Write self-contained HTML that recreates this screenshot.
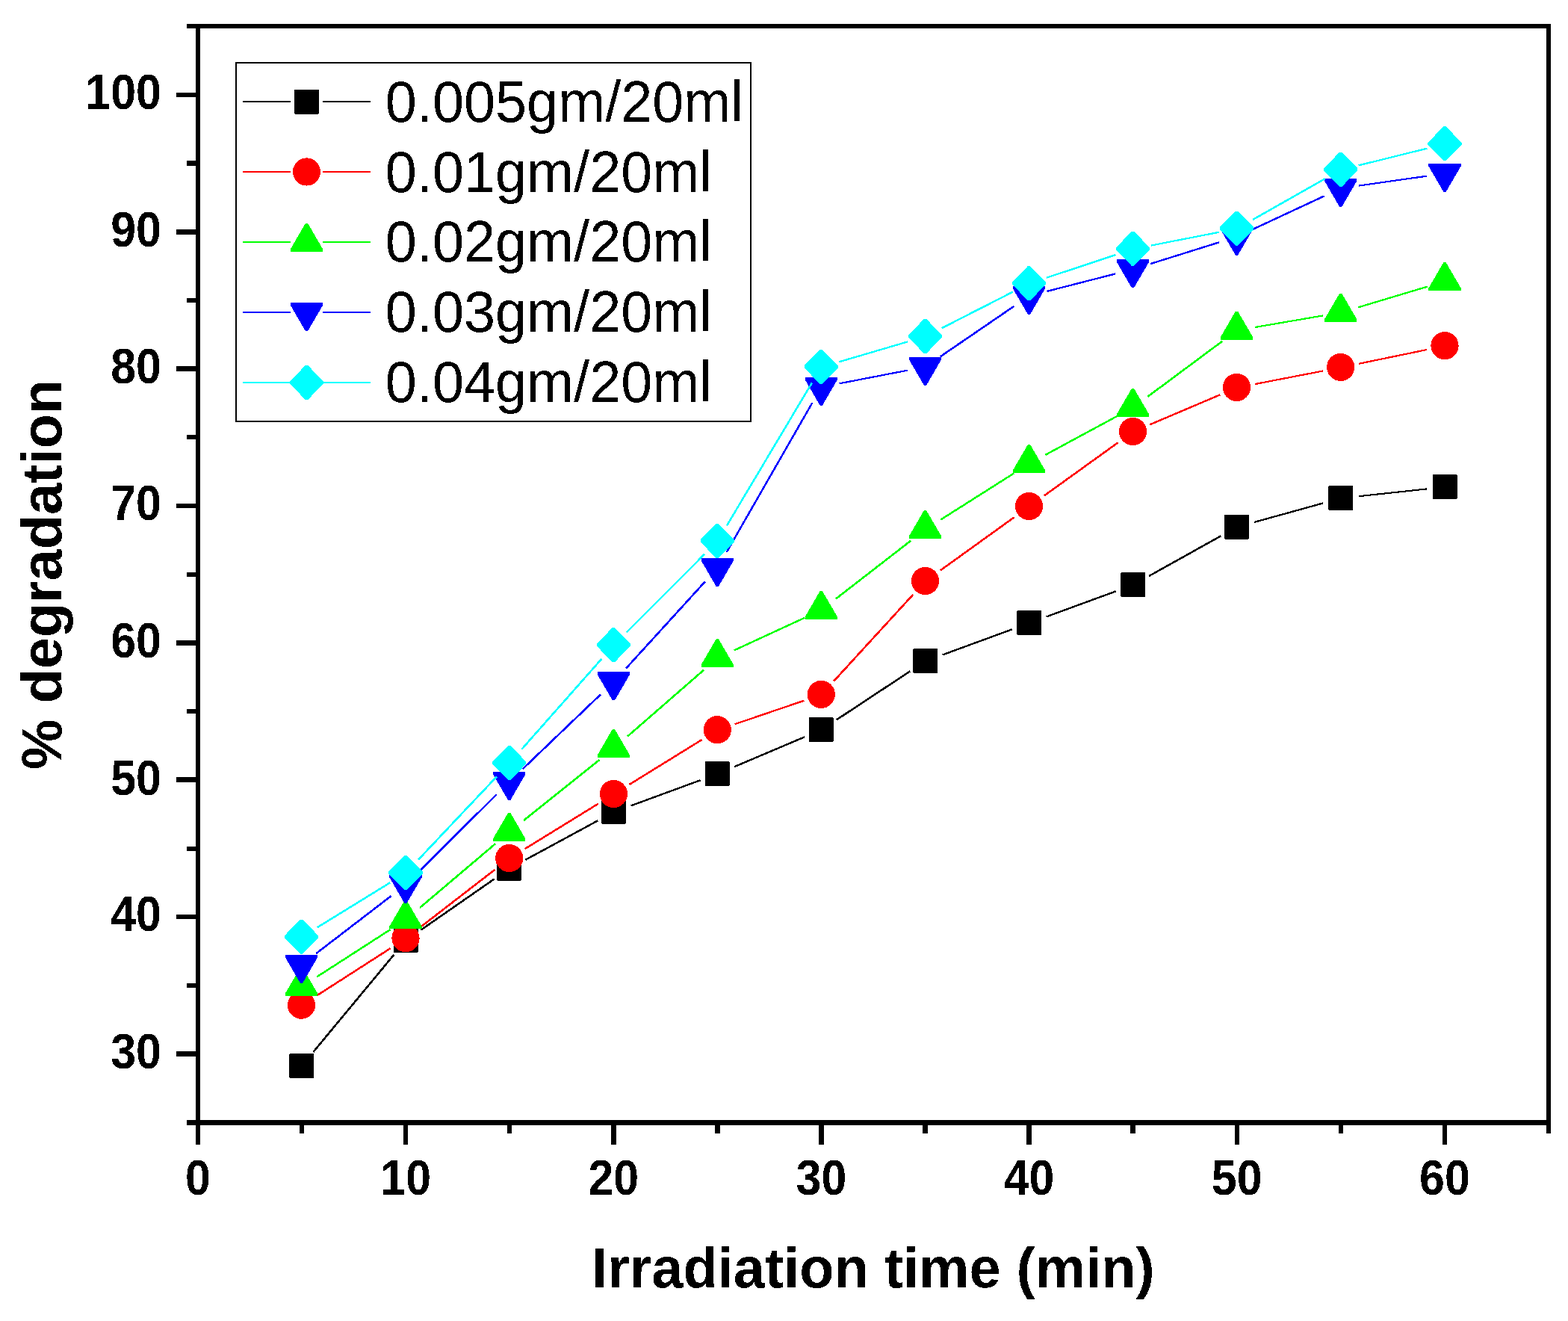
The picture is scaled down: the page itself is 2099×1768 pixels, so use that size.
<!DOCTYPE html>
<html lang="en"><head><meta charset="utf-8"><title>% degradation vs Irradiation time</title>
<style>
html,body{margin:0;padding:0;background:#fff;}
body{width:2099px;height:1768px;}
svg{display:block;}
text{font-family:"Liberation Sans",sans-serif;fill:#000;}
.b{font-weight:bold;}
.tk{font-size:62.5px;font-weight:bold;}
.tt{font-size:76px;font-weight:bold;}
.lg{font-size:76px;}
</style></head><body>
<svg width="2099" height="1768" viewBox="0 0 2099 1768">
<defs><filter id="bin" x="0" y="0" width="2099" height="1768" filterUnits="userSpaceOnUse" color-interpolation-filters="sRGB"><feComponentTransfer><feFuncA type="discrete" tableValues="0 1"/></feComponentTransfer></filter></defs>
<rect x="0" y="0" width="2099" height="1768" fill="#ffffff"/>
<g shape-rendering="crispEdges">
<g>
<line x1="419.34" y1="1408.04" x2="527.56" y2="1277.56" stroke="#000000" stroke-width="2.59"/>
<line x1="563.32" y1="1244.73" x2="661.78" y2="1176.37" stroke="#000000" stroke-width="2.56"/>
<line x1="703.45" y1="1150.74" x2="800.05" y2="1098.46" stroke="#000000" stroke-width="2.5"/>
<line x1="844.6" y1="1078.36" x2="937.5" y2="1044.24" stroke="#000000" stroke-width="2.39"/>
<line x1="983.05" y1="1026.23" x2="1076.95" y2="986.37" stroke="#000000" stroke-width="2.43"/>
<line x1="1119.95" y1="963.3" x2="1218.25" y2="898.4" stroke="#000000" stroke-width="2.55"/>
<line x1="1261.7" y1="876.46" x2="1354.7" y2="842.34" stroke="#000000" stroke-width="2.39"/>
<line x1="1400.7" y1="825.46" x2="1493.7" y2="791.34" stroke="#000000" stroke-width="2.39"/>
<line x1="1538.1" y1="770.97" x2="1634.3" y2="717.33" stroke="#000000" stroke-width="2.51"/>
<line x1="1679.31" y1="698.85" x2="1771.29" y2="673.35" stroke="#000000" stroke-width="2.31"/>
<line x1="1819.26" y1="664.18" x2="1909.84" y2="654.42" stroke="#000000" stroke-width="2.13"/>
<polygon points="388,1410 419,1410 420,1411 420,1442 419,1443 388,1443 387,1442 387,1411" fill="#000000"/>
<polygon points="527.5,1241.8 558.5,1241.8 559.5,1242.8 559.5,1273.8 558.5,1274.8 527.5,1274.8 526.5,1273.8 526.5,1242.8" fill="#000000"/>
<polygon points="666.2,1145.5 697.2,1145.5 698.2,1146.5 698.2,1177.5 697.2,1178.5 666.2,1178.5 665.2,1177.5 665.2,1146.5" fill="#000000"/>
<polygon points="805.9,1069.9 836.9,1069.9 837.9,1070.9 837.9,1101.9 836.9,1102.9 805.9,1102.9 804.9,1101.9 804.9,1070.9" fill="#000000"/>
<polygon points="944.8,1018.9 975.8,1018.9 976.8,1019.9 976.8,1050.9 975.8,1051.9 944.8,1051.9 943.8,1050.9 943.8,1019.9" fill="#000000"/>
<polygon points="1083.8,959.9 1114.8,959.9 1115.8,960.9 1115.8,991.9 1114.8,992.9 1083.8,992.9 1082.8,991.9 1082.8,960.9" fill="#000000"/>
<polygon points="1223,868 1254,868 1255,869 1255,900 1254,901 1223,901 1222,900 1222,869" fill="#000000"/>
<polygon points="1362,817 1393,817 1394,818 1394,849 1393,850 1362,850 1361,849 1361,818" fill="#000000"/>
<polygon points="1501,766 1532,766 1533,767 1533,798 1532,799 1501,799 1500,798 1500,767" fill="#000000"/>
<polygon points="1640,688.5 1671,688.5 1672,689.5 1672,720.5 1671,721.5 1640,721.5 1639,720.5 1639,689.5" fill="#000000"/>
<polygon points="1779.2,649.9 1810.2,649.9 1811.2,650.9 1811.2,681.9 1810.2,682.9 1779.2,682.9 1778.2,681.9 1778.2,650.9" fill="#000000"/>
<polygon points="1918.5,634.9 1949.5,634.9 1950.5,635.9 1950.5,666.9 1949.5,667.9 1918.5,667.9 1917.5,666.9 1917.5,635.9" fill="#000000"/>
</g>
<g>
<line x1="424.31" y1="1332.36" x2="522.59" y2="1269.24" stroke="#ff0000" stroke-width="2.55"/>
<line x1="562.59" y1="1241.03" x2="662.51" y2="1163.87" stroke="#ff0000" stroke-width="2.58"/>
<line x1="702.76" y1="1136.06" x2="800.74" y2="1075.74" stroke="#ff0000" stroke-width="2.54"/>
<line x1="842.44" y1="1050.02" x2="939.66" y2="989.98" stroke="#ff0000" stroke-width="2.54"/>
<line x1="983.69" y1="969.21" x2="1076.31" y2="937.69" stroke="#ff0000" stroke-width="2.37"/>
<line x1="1116.05" y1="911.74" x2="1222.15" y2="795.96" stroke="#ff0000" stroke-width="2.6"/>
<line x1="1258.59" y1="763.59" x2="1357.81" y2="692.21" stroke="#ff0000" stroke-width="2.57"/>
<line x1="1397.59" y1="663.59" x2="1496.81" y2="592.21" stroke="#ff0000" stroke-width="2.57"/>
<line x1="1539.25" y1="568.31" x2="1633.15" y2="528.39" stroke="#ff0000" stroke-width="2.43"/>
<line x1="1679.75" y1="514.13" x2="1770.85" y2="496.47" stroke="#ff0000" stroke-width="2.22"/>
<line x1="1818.89" y1="486.84" x2="1910.21" y2="467.96" stroke="#ff0000" stroke-width="2.24"/>
<circle cx="403.5" cy="1345.2" r="18.6" fill="#ff0000"/>
<circle cx="543" cy="1255.6" r="18.6" fill="#ff0000"/>
<circle cx="681.7" cy="1148.5" r="18.6" fill="#ff0000"/>
<circle cx="821.4" cy="1062.5" r="18.6" fill="#ff0000"/>
<circle cx="960.3" cy="976.7" r="18.6" fill="#ff0000"/>
<circle cx="1099.3" cy="929.4" r="18.6" fill="#ff0000"/>
<circle cx="1238.5" cy="777.5" r="18.6" fill="#ff0000"/>
<circle cx="1377.5" cy="677.5" r="18.6" fill="#ff0000"/>
<circle cx="1516.5" cy="577.5" r="18.6" fill="#ff0000"/>
<circle cx="1655.5" cy="518.4" r="18.6" fill="#ff0000"/>
<circle cx="1794.7" cy="491.4" r="18.6" fill="#ff0000"/>
<circle cx="1934" cy="462.6" r="18.6" fill="#ff0000"/>
</g>
<g>
<line x1="424.3" y1="1307.34" x2="522.6" y2="1244.06" stroke="#00ff00" stroke-width="2.55"/>
<line x1="561.9" y1="1214.97" x2="663.2" y2="1129.23" stroke="#00ff00" stroke-width="2.59"/>
<line x1="701.03" y1="1098.09" x2="802.47" y2="1016.91" stroke="#00ff00" stroke-width="2.59"/>
<line x1="840.08" y1="985.51" x2="942.02" y2="896.79" stroke="#00ff00" stroke-width="2.59"/>
<line x1="982.74" y1="870.43" x2="1077.26" y2="826.77" stroke="#00ff00" stroke-width="2.46"/>
<line x1="1118.86" y1="801.49" x2="1219.34" y2="723.61" stroke="#00ff00" stroke-width="2.58"/>
<line x1="1259.39" y1="695.48" x2="1357.01" y2="633.62" stroke="#00ff00" stroke-width="2.54"/>
<line x1="1399.26" y1="608.87" x2="1495.14" y2="557.13" stroke="#00ff00" stroke-width="2.5"/>
<line x1="1536.36" y1="530.89" x2="1636.04" y2="456.81" stroke="#00ff00" stroke-width="2.57"/>
<line x1="1679.85" y1="438.05" x2="1770.75" y2="422.45" stroke="#00ff00" stroke-width="2.2"/>
<line x1="1818.37" y1="411.27" x2="1910.73" y2="383.63" stroke="#00ff00" stroke-width="2.33"/>
<polygon points="401.9,1295.1 405.1,1295.1 425.1,1329.5 425.1,1333.1 381.9,1333.1 381.9,1329.5" fill="#00ff00"/>
<polygon points="541.4,1205.3 544.6,1205.3 564.6,1239.7 564.6,1243.3 521.4,1243.3 521.4,1239.7" fill="#00ff00"/>
<polygon points="680.1,1087.9 683.3,1087.9 703.3,1122.3 703.3,1125.9 660.1,1125.9 660.1,1122.3" fill="#00ff00"/>
<polygon points="819.8,976.1 823,976.1 843,1010.5 843,1014.1 799.8,1014.1 799.8,1010.5" fill="#00ff00"/>
<polygon points="958.7,855.2 961.9,855.2 981.9,889.6 981.9,893.2 938.7,893.2 938.7,889.6" fill="#00ff00"/>
<polygon points="1097.7,791 1100.9,791 1120.9,825.4 1120.9,829 1077.7,829 1077.7,825.4" fill="#00ff00"/>
<polygon points="1236.9,683.1 1240.1,683.1 1260.1,717.5 1260.1,721.1 1216.9,721.1 1216.9,717.5" fill="#00ff00"/>
<polygon points="1375.9,595 1379.1,595 1399.1,629.4 1399.1,633 1355.9,633 1355.9,629.4" fill="#00ff00"/>
<polygon points="1514.9,520 1518.1,520 1538.1,554.4 1538.1,558 1494.9,558 1494.9,554.4" fill="#00ff00"/>
<polygon points="1653.9,416.7 1657.1,416.7 1677.1,451.1 1677.1,454.7 1633.9,454.7 1633.9,451.1" fill="#00ff00"/>
<polygon points="1793.1,392.8 1796.3,392.8 1816.3,427.2 1816.3,430.8 1773.1,430.8 1773.1,427.2" fill="#00ff00"/>
<polygon points="1932.4,351.1 1935.6,351.1 1955.6,385.5 1955.6,389.1 1912.4,389.1 1912.4,385.5" fill="#00ff00"/>
</g>
<g>
<line x1="423.14" y1="1276.19" x2="523.76" y2="1199.01" stroke="#0000ff" stroke-width="2.58"/>
<line x1="560.57" y1="1166.83" x2="664.53" y2="1063.47" stroke="#0000ff" stroke-width="2.6"/>
<line x1="699.61" y1="1029.27" x2="803.89" y2="929.53" stroke="#0000ff" stroke-width="2.6"/>
<line x1="838.1" y1="894.49" x2="944" y2="778.31" stroke="#0000ff" stroke-width="2.6"/>
<line x1="972.7" y1="738.95" x2="1087.3" y2="539.25" stroke="#0000ff" stroke-width="2.52"/>
<line x1="1123.55" y1="513.33" x2="1214.65" y2="495.67" stroke="#0000ff" stroke-width="2.22"/>
<line x1="1258.93" y1="477.18" x2="1357.47" y2="409.82" stroke="#0000ff" stroke-width="2.56"/>
<line x1="1401.43" y1="389.92" x2="1492.97" y2="366.48" stroke="#0000ff" stroke-width="2.29"/>
<line x1="1540.08" y1="353.08" x2="1632.32" y2="324.22" stroke="#0000ff" stroke-width="2.34"/>
<line x1="1677.91" y1="306.55" x2="1772.69" y2="262.35" stroke="#0000ff" stroke-width="2.46"/>
<line x1="1819.16" y1="248.55" x2="1909.94" y2="235.65" stroke="#0000ff" stroke-width="2.17"/>
<polygon points="401.9,1315.8 405.1,1315.8 425.1,1281.4 425.1,1277.8 381.9,1277.8 381.9,1281.4" fill="#0000ff"/>
<polygon points="541.4,1208.8 544.6,1208.8 564.6,1174.4 564.6,1170.8 521.4,1170.8 521.4,1174.4" fill="#0000ff"/>
<polygon points="680.1,1070.9 683.3,1070.9 703.3,1036.5 703.3,1032.9 660.1,1032.9 660.1,1036.5" fill="#0000ff"/>
<polygon points="819.8,937.3 823,937.3 843,902.9 843,899.3 799.8,899.3 799.8,902.9" fill="#0000ff"/>
<polygon points="958.7,784.9 961.9,784.9 981.9,750.5 981.9,746.9 938.7,746.9 938.7,750.5" fill="#0000ff"/>
<polygon points="1097.7,542.7 1100.9,542.7 1120.9,508.3 1120.9,504.7 1077.7,504.7 1077.7,508.3" fill="#0000ff"/>
<polygon points="1236.9,515.7 1240.1,515.7 1260.1,481.3 1260.1,477.7 1216.9,477.7 1216.9,481.3" fill="#0000ff"/>
<polygon points="1375.9,420.7 1379.1,420.7 1399.1,386.3 1399.1,382.7 1355.9,382.7 1355.9,386.3" fill="#0000ff"/>
<polygon points="1514.9,385.1 1518.1,385.1 1538.1,350.7 1538.1,347.1 1494.9,347.1 1494.9,350.7" fill="#0000ff"/>
<polygon points="1653.9,341.6 1657.1,341.6 1677.1,307.2 1677.1,303.6 1633.9,303.6 1633.9,307.2" fill="#0000ff"/>
<polygon points="1793.1,276.7 1796.3,276.7 1816.3,242.3 1816.3,238.7 1773.1,238.7 1773.1,242.3" fill="#0000ff"/>
<polygon points="1932.4,256.9 1935.6,256.9 1955.6,222.5 1955.6,218.9 1912.4,218.9 1912.4,222.5" fill="#0000ff"/>
</g>
<g>
<line x1="424.57" y1="1241.36" x2="522.33" y2="1181.24" stroke="#00ffff" stroke-width="2.54"/>
<line x1="560.01" y1="1150.58" x2="665.09" y2="1039.22" stroke="#00ffff" stroke-width="2.6"/>
<line x1="698.13" y1="1003.05" x2="805.37" y2="881.85" stroke="#00ffff" stroke-width="2.6"/>
<line x1="838.91" y1="846.16" x2="943.19" y2="741.64" stroke="#00ffff" stroke-width="2.6"/>
<line x1="973.05" y1="703.26" x2="1086.95" y2="512.34" stroke="#00ffff" stroke-width="2.53"/>
<line x1="1123.01" y1="484.39" x2="1215.19" y2="457.31" stroke="#00ffff" stroke-width="2.32"/>
<line x1="1260.52" y1="439.27" x2="1355.88" y2="390.63" stroke="#00ffff" stroke-width="2.49"/>
<line x1="1400.95" y1="371.77" x2="1493.45" y2="341.03" stroke="#00ffff" stroke-width="2.36"/>
<line x1="1540.74" y1="328.59" x2="1631.66" y2="310.81" stroke="#00ffff" stroke-width="2.23"/>
<line x1="1677.01" y1="294.02" x2="1773.59" y2="239.28" stroke="#00ffff" stroke-width="2.51"/>
<line x1="1818.69" y1="221.33" x2="1910.41" y2="198.67" stroke="#00ffff" stroke-width="2.28"/>
<polygon points="401.9,1230.8 405.1,1230.8 426.1,1252.2 426.1,1255.4 405.1,1276.8 401.9,1276.8 380.9,1255.4 380.9,1252.2" fill="#00ffff"/>
<polygon points="541.4,1145 544.6,1145 565.6,1166.4 565.6,1169.6 544.6,1191 541.4,1191 520.4,1169.6 520.4,1166.4" fill="#00ffff"/>
<polygon points="680.1,998 683.3,998 704.3,1019.4 704.3,1022.6 683.3,1044 680.1,1044 659.1,1022.6 659.1,1019.4" fill="#00ffff"/>
<polygon points="819.8,840.1 823,840.1 844,861.5 844,864.7 823,886.1 819.8,886.1 798.8,864.7 798.8,861.5" fill="#00ffff"/>
<polygon points="958.7,700.9 961.9,700.9 982.9,722.3 982.9,725.5 961.9,746.9 958.7,746.9 937.7,725.5 937.7,722.3" fill="#00ffff"/>
<polygon points="1097.7,467.9 1100.9,467.9 1121.9,489.3 1121.9,492.5 1100.9,513.9 1097.7,513.9 1076.7,492.5 1076.7,489.3" fill="#00ffff"/>
<polygon points="1236.9,427 1240.1,427 1261.1,448.4 1261.1,451.6 1240.1,473 1236.9,473 1215.9,451.6 1215.9,448.4" fill="#00ffff"/>
<polygon points="1375.9,356.1 1379.1,356.1 1400.1,377.5 1400.1,380.7 1379.1,402.1 1375.9,402.1 1354.9,380.7 1354.9,377.5" fill="#00ffff"/>
<polygon points="1514.9,309.9 1518.1,309.9 1539.1,331.3 1539.1,334.5 1518.1,355.9 1514.9,355.9 1493.9,334.5 1493.9,331.3" fill="#00ffff"/>
<polygon points="1653.9,282.7 1657.1,282.7 1678.1,304.1 1678.1,307.3 1657.1,328.7 1653.9,328.7 1632.9,307.3 1632.9,304.1" fill="#00ffff"/>
<polygon points="1793.1,203.8 1796.3,203.8 1817.3,225.2 1817.3,228.4 1796.3,249.8 1793.1,249.8 1772.1,228.4 1772.1,225.2" fill="#00ffff"/>
<polygon points="1932.4,169.4 1935.6,169.4 1956.6,190.8 1956.6,194 1935.6,215.4 1932.4,215.4 1911.4,194 1911.4,190.8" fill="#00ffff"/>
</g>
</g>
<g fill="#000" shape-rendering="crispEdges">
<rect x="262" y="32" width="6" height="1500"/>
<rect x="2070" y="32" width="6" height="1485"/>
<rect x="250" y="32" width="1826" height="6"/>
<rect x="250" y="1499" width="1826" height="7"/>
<rect x="236" y="1407" width="29" height="7"/>
<rect x="250" y="1316" width="15" height="6"/>
<rect x="236" y="1224" width="29" height="6"/>
<rect x="250" y="1133" width="15" height="6"/>
<rect x="236" y="1040" width="29" height="7"/>
<rect x="250" y="949" width="15" height="6"/>
<rect x="236" y="857" width="29" height="7"/>
<rect x="250" y="766" width="15" height="6"/>
<rect x="236" y="674" width="29" height="6"/>
<rect x="250" y="582" width="15" height="6"/>
<rect x="236" y="490" width="29" height="7"/>
<rect x="250" y="399" width="15" height="6"/>
<rect x="236" y="307" width="29" height="7"/>
<rect x="250" y="215" width="15" height="7"/>
<rect x="236" y="124" width="29" height="6"/>
<rect x="401" y="1502" width="6" height="15"/>
<rect x="540" y="1502" width="6" height="30"/>
<rect x="679" y="1502" width="6" height="15"/>
<rect x="818" y="1502" width="7" height="30"/>
<rect x="957" y="1502" width="7" height="15"/>
<rect x="1096" y="1502" width="7" height="30"/>
<rect x="1235" y="1502" width="7" height="15"/>
<rect x="1374" y="1502" width="7" height="30"/>
<rect x="1513" y="1502" width="7" height="15"/>
<rect x="1653" y="1502" width="6" height="30"/>
<rect x="1792" y="1502" width="6" height="15"/>
<rect x="1931" y="1502" width="6" height="30"/>
</g>
<g filter="url(#bin)">
<g class="tk">
<text transform="translate(216 1429.59) scale(0.975 1.07)" text-anchor="end">30</text>
<text transform="translate(216 1246.22) scale(0.975 1.07)" text-anchor="end">40</text>
<text transform="translate(216 1063.85) scale(0.975 1.07)" text-anchor="end">50</text>
<text transform="translate(216 880.08) scale(0.975 1.07)" text-anchor="end">60</text>
<text transform="translate(216 696.11) scale(0.975 1.07)" text-anchor="end">70</text>
<text transform="translate(216 512.74) scale(0.975 1.07)" text-anchor="end">80</text>
<text transform="translate(216 330.37) scale(0.975 1.07)" text-anchor="end">90</text>
<text transform="translate(216 146) scale(0.975 1.07)" text-anchor="end">100</text>
<text transform="translate(265 1599.5) scale(0.975 1.07)" text-anchor="middle">0</text>
<text transform="translate(543.15 1599.5) scale(0.975 1.07)" text-anchor="middle">10</text>
<text transform="translate(821.3 1599.5) scale(0.975 1.07)" text-anchor="middle">20</text>
<text transform="translate(1099.45 1599.5) scale(0.975 1.07)" text-anchor="middle">30</text>
<text transform="translate(1377.6 1599.5) scale(0.975 1.07)" text-anchor="middle">40</text>
<text transform="translate(1655.75 1599.5) scale(0.975 1.07)" text-anchor="middle">50</text>
<text transform="translate(1933.9 1599.5) scale(0.975 1.07)" text-anchor="middle">60</text>
</g>
<text class="tt" transform="translate(1169 1723) scale(0.997 1)" text-anchor="middle">Irradiation time (min)</text>
<text class="tt" transform="translate(82 769) rotate(-90) scale(0.997 1)" text-anchor="middle">% degradation</text>
</g>
<g shape-rendering="crispEdges">
<rect x="316" y="84" width="689" height="480" fill="#fff" stroke="#000" stroke-width="2"/>
<line x1="325" y1="136" x2="388.5" y2="136" stroke="#000000" stroke-width="2"/>
<line x1="432" y1="136" x2="496" y2="136" stroke="#000000" stroke-width="2"/>
<polygon points="395,119.5 426,119.5 427,120.5 427,151.5 426,152.5 395,152.5 394,151.5 394,120.5" fill="#000000"/>
<line x1="325" y1="230" x2="388.5" y2="230" stroke="#ff0000" stroke-width="2"/>
<line x1="432" y1="230" x2="496" y2="230" stroke="#ff0000" stroke-width="2"/>
<circle cx="410.5" cy="230" r="18.6" fill="#ff0000"/>
<line x1="325" y1="324" x2="388.5" y2="324" stroke="#00ff00" stroke-width="2"/>
<line x1="432" y1="324" x2="496" y2="324" stroke="#00ff00" stroke-width="2"/>
<polygon points="408.9,298.9 412.1,298.9 432.1,333.3 432.1,336.9 388.9,336.9 388.9,333.3" fill="#00ff00"/>
<line x1="325" y1="418" x2="388.5" y2="418" stroke="#0000ff" stroke-width="2"/>
<line x1="432" y1="418" x2="496" y2="418" stroke="#0000ff" stroke-width="2"/>
<polygon points="408.9,443.1 412.1,443.1 432.1,408.7 432.1,405.1 388.9,405.1 388.9,408.7" fill="#0000ff"/>
<line x1="325" y1="512" x2="388.5" y2="512" stroke="#00ffff" stroke-width="2"/>
<line x1="432" y1="512" x2="496" y2="512" stroke="#00ffff" stroke-width="2"/>
<polygon points="408.9,489 412.1,489 433.1,510.4 433.1,513.6 412.1,535 408.9,535 387.9,513.6 387.9,510.4" fill="#00ffff"/>
</g>
<g class="lg" filter="url(#bin)">
<text transform="translate(515.8 163) scale(0.9955 1.013)" text-anchor="start">0.005gm/20ml</text>
<text transform="translate(515.8 256.7) scale(0.9955 1.013)" text-anchor="start">0.01gm/20ml</text>
<text transform="translate(515.8 350.4) scale(0.9955 1.013)" text-anchor="start">0.02gm/20ml</text>
<text transform="translate(515.8 444.1) scale(0.9955 1.013)" text-anchor="start">0.03gm/20ml</text>
<text transform="translate(515.8 537.8) scale(0.9955 1.013)" text-anchor="start">0.04gm/20ml</text>
</g>
</svg></body></html>
